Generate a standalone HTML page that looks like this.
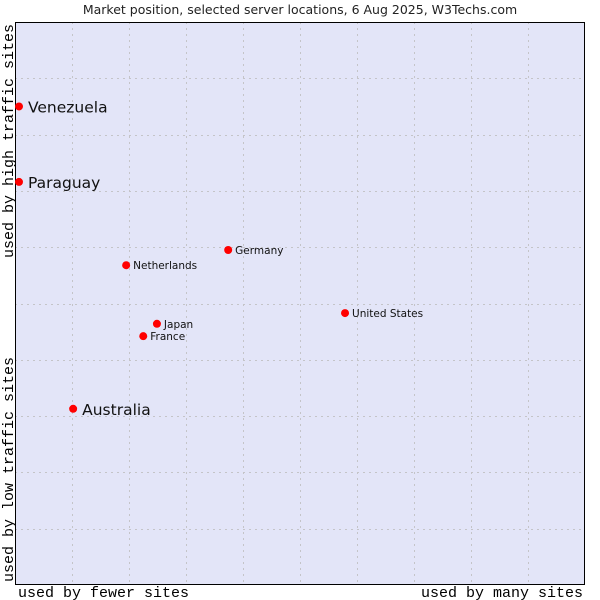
<!DOCTYPE html>
<html><head><meta charset="utf-8"><style>
body{margin:0;background:#fff;}
svg{display:block;}
</style></head><body>
<svg width="600" height="600" xmlns="http://www.w3.org/2000/svg">
<rect x="0" y="0" width="600" height="600" fill="#fff"/>
<text x="300" y="14" text-anchor="middle" font-family="DejaVu Sans, sans-serif" font-size="12.5" fill="#222">Market position, selected server locations, 6 Aug 2025, W3Techs.com</text>
<rect x="15" y="22" width="570" height="563" fill="#e3e5f8"/>
<g id="grid"></g>
<line x1="15" y1="22.5" x2="585" y2="22.5" stroke="#000"/>
<line x1="15.5" y1="22" x2="15.5" y2="585" stroke="#000"/>
<line x1="15" y1="584.5" x2="585" y2="584.5" stroke="#000"/>
<line x1="584.5" y1="22" x2="584.5" y2="585" stroke="#000"/>
<g id="points"></g>
<text x="18" y="597" font-family="Liberation Mono, monospace" font-size="15" fill="#000">used by fewer sites</text>
<text x="583" y="597" text-anchor="end" font-family="Liberation Mono, monospace" font-size="15" fill="#000">used by many sites</text>
<text transform="translate(13,582) rotate(-90)" font-family="Liberation Mono, monospace" font-size="15" fill="#000">used by low traffic sites</text>
<text transform="translate(13,24) rotate(-90)" text-anchor="end" font-family="Liberation Mono, monospace" font-size="15" fill="#000">used by high traffic sites</text>
</svg>
<script>
const names=["Venezuela","Paraguay","Germany","Netherlands","United States","Japan","France","Australia"];
const xValues=[0.07,0.07,3.74,1.95,5.79,2.49,2.25,1.02];
const yValues=[8.5,7.16,5.95,5.68,4.83,4.64,4.42,3.13];
const highlighted=[true,true,false,false,false,false,false,true];
const NS="http://www.w3.org/2000/svg";
function sx(v){return 15+v*57;}
function sy(v){return 585-v*56.3;}
const grid=document.getElementById('grid');
for(let i=1;i<10;i++){
  const gx=Math.round(sx(i))+0.5, gy=Math.round(sy(i))+0.5;
  const l=document.createElementNS(NS,'line');
  l.setAttribute('x1',gx);l.setAttribute('x2',gx);l.setAttribute('y1',22);l.setAttribute('y2',585);
  l.setAttribute('stroke','#c4c4c8');l.setAttribute('stroke-dasharray','2,4');
  
  
  grid.appendChild(l);
  const h=document.createElementNS(NS,'line');
  h.setAttribute('x1',15);h.setAttribute('x2',585);h.setAttribute('y1',gy);h.setAttribute('y2',gy);
  h.setAttribute('stroke','#c4c4c8');h.setAttribute('stroke-dasharray','2,4');
  
  
  grid.appendChild(h);
}
const pts=document.getElementById('points');
names.forEach((n,i)=>{
  const x=sx(xValues[i]),y=sy(yValues[i]);
  const c=document.createElementNS(NS,'circle');
  c.setAttribute('cx',x);c.setAttribute('cy',y);c.setAttribute('r',4);c.setAttribute('fill','#f00');
  
  
  pts.appendChild(c);
  const t=document.createElementNS(NS,'text');
  const big=highlighted[i];
  t.setAttribute('x',x+(big?9:7));t.setAttribute('y',y+(big?6:4));
  t.setAttribute('font-family','DejaVu Sans, sans-serif');
  t.setAttribute('font-size',big?15.5:10.5);t.setAttribute('fill','#111');
  t.textContent=n;
  
  
  pts.appendChild(t);
});
</script>
</body></html>
